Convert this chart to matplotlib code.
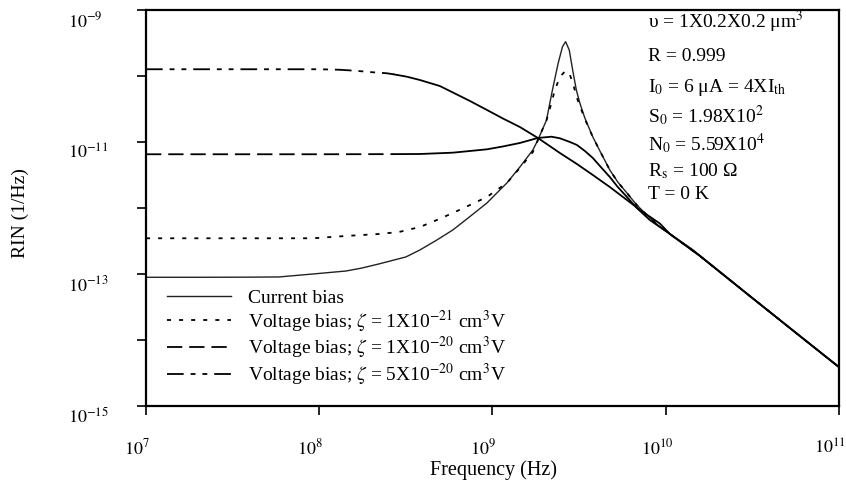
import numpy as np
import matplotlib
matplotlib.use("Agg")
import matplotlib.pyplot as plt
import matplotlib.transforms as mtransforms
from matplotlib.lines import Line2D
from matplotlib.ticker import NullLocator

plt.rcParams["font.family"] = ["Liberation Serif", "DejaVu Serif"]
plt.rcParams["mathtext.fontset"] = "stix"
plt.rcParams["lines.scale_dashes"] = False

# log10 of frequency (Hz) and log10 of RIN (1/Hz)
cur_f = [7.000, 7.312, 7.600, 7.767, 7.964, 8.154, 8.246, 8.344, 8.500, 8.581,
         8.679, 8.771, 8.870, 8.968, 9.025, 9.083, 9.158, 9.233, 9.262, 9.312,
         9.331, 9.350, 9.379, 9.404, 9.422, 9.443, 9.466, 9.484, 9.504, 9.533,
         9.562, 9.579, 9.620, 9.677, 9.723, 9.776, 9.833, 9.891, 9.954, 10.024,
         10.197, 10.485, 10.774, 10.999]
cur_rin = [-13.050, -13.050, -13.048, -13.045, -13.000, -12.955, -12.910, -12.848,
           -12.742, -12.636, -12.485, -12.333, -12.129, -11.924, -11.773, -11.621,
           -11.379, -11.121, -10.970, -10.667, -10.409, -10.162, -9.808, -9.556,
           -9.480, -9.606, -9.959, -10.212, -10.409, -10.636, -10.818, -10.924,
           -11.136, -11.424, -11.606, -11.773, -11.955, -12.106, -12.258, -12.394,
           -12.727, -13.333, -13.939, -14.409]

v21_f = [7.000, 7.600, 7.964, 8.154, 8.344, 8.460, 8.581, 8.679, 8.771, 8.870,
         8.968, 9.025, 9.083, 9.158, 9.233, 9.262, 9.312, 9.337, 9.360, 9.380,
         9.399, 9.422, 9.447, 9.464, 9.485, 9.513, 9.543, 9.579, 9.620, 9.677,
         9.723, 9.776, 9.833, 9.891, 9.954, 10.024, 10.197, 10.485, 10.774, 10.999]
v21_rin = [-12.459, -12.459, -12.459, -12.424, -12.394, -12.364, -12.288, -12.182,
           -12.076, -11.955, -11.833, -11.727, -11.621, -11.394, -11.152, -10.970,
           -10.667, -10.439, -10.212, -10.076, -9.985, -9.920, -9.985, -10.106,
           -10.314, -10.515, -10.712, -10.924, -11.136, -11.424, -11.606, -11.773,
           -11.955, -12.106, -12.258, -12.394, -12.727, -13.333, -13.939, -14.409]

v20_f = [7.000, 8.004, 8.430, 8.581, 8.771, 8.968, 9.060, 9.158, 9.210, 9.262,
         9.341, 9.389, 9.447, 9.487, 9.533, 9.579, 9.620, 9.677, 9.723, 9.776,
         9.833, 9.908, 10.024, 10.197, 10.485, 10.774, 10.999]
v20_rin = [-11.186, -11.186, -11.184, -11.182, -11.162, -11.111, -11.068, -11.015,
           -10.977, -10.939, -10.920, -10.944, -11.000, -11.045, -11.136, -11.242,
           -11.364, -11.530, -11.682, -11.833, -12.000, -12.182, -12.394, -12.727,
           -13.333, -13.939, -14.409]

v50_f = [7.000, 8.004, 8.119, 8.206, 8.310, 8.391, 8.430, 8.506, 8.581, 8.696,
         8.771, 8.870, 8.968, 9.060, 9.158, 9.262, 9.389, 9.487, 9.579, 9.677,
         9.776, 9.868, 9.966, 10.024, 10.156, 10.485, 10.774, 10.999]
v50_rin = [-9.898, -9.898, -9.906, -9.920, -9.944, -9.959, -9.975, -10.011,
           -10.061, -10.152, -10.250, -10.379, -10.515, -10.644, -10.773, -10.939,
           -11.167, -11.333, -11.500, -11.682, -11.879, -12.061, -12.235, -12.394,
           -12.636, -13.333, -13.939, -14.409]

legend_labels = [
    "Current bias",
    r"Voltage bias; $\zeta$ = 1X10$^{-21}$ cm$^{3}$V",
    r"Voltage bias; $\zeta$ = 1X10$^{-20}$ cm$^{3}$V",
    r"Voltage bias; $\zeta$ = 5X10$^{-20}$ cm$^{3}$V",
]

params = [
    "υ = 1X0.2X0.2 μm$^{3}$",
    "R = 0.999",
    r"I$_{0}$ = 6 μA = 4XI$_{\mathrm{th}}$",
    r"S$_{0}$ = 1.98X10$^{2}$",
    r"N$_{0}$ = 5.59X10$^{4}$",
    r"R$_{\mathrm{s}}$ = 100 Ω",
    "T = 0 K",
]

x_ticks = [1e7, 1e8, 1e9, 1e10, 1e11]
x_labels = [r"$10^{7}$", r"$10^{8}$", r"$10^{9}$", r"$10^{10}$", r"$10^{11}$"]
y_ticks = [1e-15, 1e-14, 1e-13, 1e-12, 1e-11, 1e-10, 1e-9]
y_labels = [r"$10^{-15}$", "", r"$10^{-13}$", "", r"$10^{-11}$", "", r"$10^{-9}$"]

DOT = (0, (2.9, 5.8))
DASH = (0, (11, 5))
DASHDOTDOT = (0, (12, 5, 3.5, 5, 3.5, 5))
SPLIT = 8.43  # curves drawn dashed only up to here, solid after


def plot_split(ax, f_exp, rin_exp, style, lw):
    f = 10.0 ** np.array(f_exp)
    rin = 10.0 ** np.array(rin_exp)
    k = int(np.searchsorted(f_exp, SPLIT)) + 1
    ax.plot(f[:k], rin[:k], color="k", lw=lw, linestyle=style)
    ax.plot(f[k - 1:], rin[k - 1:], color="k", lw=lw)


fig = plt.figure(figsize=(8.46, 4.8), dpi=100)
ax = fig.add_axes([0.1726, 0.1542, 0.8191, 0.8250])

ax.plot(10.0 ** np.array(cur_f), 10.0 ** np.array(cur_rin), color="#222222", lw=1.0)
ax.plot(10.0 ** np.array(v21_f), 10.0 ** np.array(v21_rin), color="k", lw=1.3, linestyle=DOT)
plot_split(ax, v20_f, v20_rin, DASH, 1.3)
plot_split(ax, v50_f, v50_rin, DASHDOTDOT, 1.3)

ax.set_xscale("log")
ax.set_yscale("log")
ax.set_xlim(1e7, 1e11)
ax.set_ylim(1e-15, 1e-9)
ax.set_xticks(x_ticks, x_labels)
ax.set_yticks(y_ticks, y_labels)
ax.xaxis.set_minor_locator(NullLocator())
ax.yaxis.set_minor_locator(NullLocator())

for sp in ax.spines.values():
    sp.set_linewidth(1.6)
ax.tick_params(axis="both", direction="out", length=6.5, width=1.2, labelsize=13)
ax.tick_params(axis="y", pad=49.7)
ax.tick_params(axis="x", pad=17)

dpi = fig.dpi_scale_trans
for lab in ax.get_yticklabels():
    lab.set_horizontalalignment("left")
    lab.set_transform(lab.get_transform() + mtransforms.ScaledTranslation(0, -9 / 100, dpi))
for lab in ax.get_xticklabels():
    lab.set_transform(lab.get_transform() + mtransforms.ScaledTranslation(-9 / 100, 0, dpi))

fig.text(20 / 846, 1 - 213 / 480, "RIN (1/Hz)", rotation=90, fontsize=14,
         ha="center", va="center")
fig.text(493 / 846, 1 - 470 / 480, "Frequency (Hz)", fontsize=14.5,
         ha="center", va="center")

handles = [
    Line2D([], [], color="#222222", lw=1.0),
    Line2D([], [], color="k", lw=1.3, linestyle=DOT),
    Line2D([], [], color="k", lw=1.3, linestyle=DASH),
    Line2D([], [], color="k", lw=1.3, linestyle=DASHDOTDOT),
]
ax.legend(handles, legend_labels, loc="upper left", bbox_to_anchor=(0.03, 0.295),
          frameon=False, fontsize=14, handlelength=3.3, handletextpad=0.9,
          labelspacing=0.05, borderpad=0.0, borderaxespad=0.0)

baselines = [28, 61, 92, 122, 150, 176, 199]
for txt, b in zip(params, baselines):
    fig.text(648 / 846, 1 - b / 480, txt, fontsize=14, ha="left", va="baseline")

fig.savefig("out.png", dpi=100)
